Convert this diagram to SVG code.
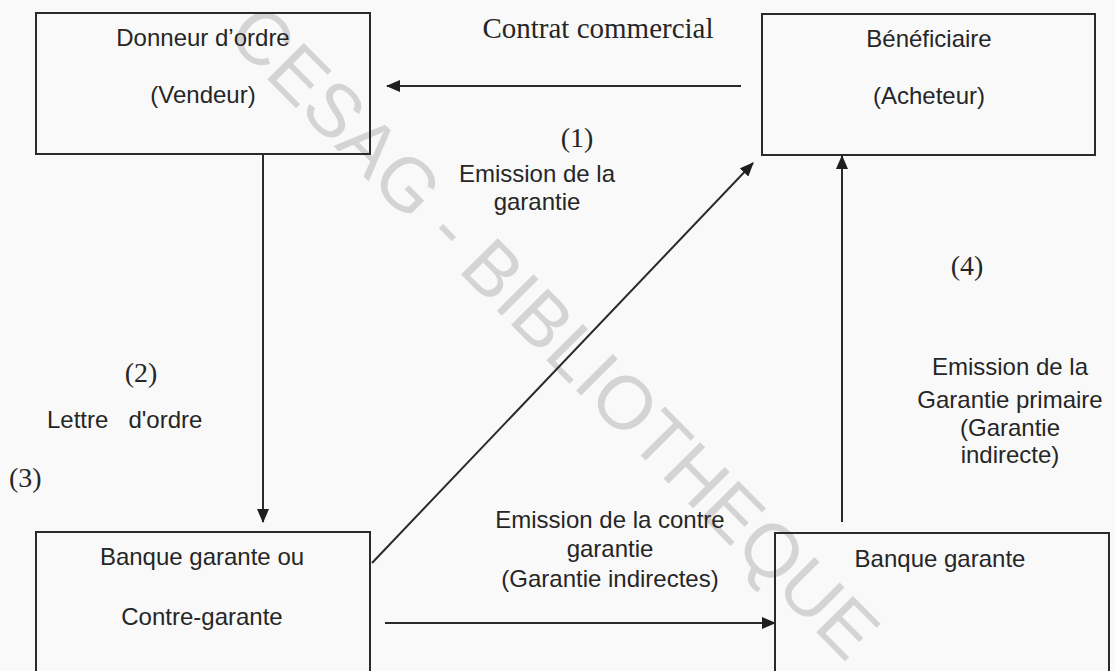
<svg xmlns="http://www.w3.org/2000/svg" width="1115" height="671" viewBox="0 0 1115 671">
<defs>
<style>
.box{fill:none;stroke:#2a2a2a;stroke-width:2}
.lbl{font-family:"Liberation Sans",Arial,sans-serif;font-size:24px;fill:#262626;text-anchor:middle}
.ser{font-family:"Liberation Serif","Times New Roman",serif;font-size:28px;fill:#262626;text-anchor:middle}
.con{stroke:#2a2a2a;stroke-width:2;fill:none;marker-end:url(#ah)}
.wm{font-family:"Liberation Sans",Arial,sans-serif;font-size:75px;fill:#d4d4d4;text-anchor:middle}
</style>
<marker id="ah" markerUnits="userSpaceOnUse" markerWidth="14" markerHeight="12" refX="13" refY="6" orient="auto">
<path d="M0,0 L14,6 L0,12 z" fill="#1e1e1e"/>
</marker>
</defs>
<rect width="1115" height="671" fill="#f9f9f9"/>
<text class="wm" x="536" y="350" transform="rotate(45.2 536 350)">CESAG - BIBLIOTHEQUE</text>
<g id="connectors">
<line class="con" x1="741" y1="86" x2="387" y2="86"/>
<line class="con" x1="263" y1="154" x2="263" y2="522"/>
<line class="con" x1="372" y1="563" x2="753" y2="163"/>
<line class="con" x1="385" y1="623" x2="775" y2="623"/>
<line class="con" x1="842" y1="522" x2="842" y2="156"/>
</g>
<g id="node-donneur">
<rect class="box" x="36" y="13" width="334" height="141"/>
<text class="lbl" x="203" y="46">Donneur d’ordre</text>
<text class="lbl" x="203" y="103">(Vendeur)</text>
</g>
<g id="node-beneficiaire">
<rect class="box" x="762" y="14" width="333" height="141"/>
<text class="lbl" x="929" y="47">Bénéficiaire</text>
<text class="lbl" x="929" y="104">(Acheteur)</text>
</g>
<g id="node-banque-contre">
<rect class="box" x="36" y="532" width="334" height="170"/>
<text class="lbl" x="202" y="565">Banque garante ou</text>
<text class="lbl" x="202" y="625">Contre-garante</text>
</g>
<g id="node-banque-garante">
<rect class="box" x="775" y="533" width="334" height="170"/>
<text class="lbl" x="940" y="567">Banque garante</text>
</g>
<g id="labels">
<text class="ser" x="598" y="38" style="font-size:29px">Contrat commercial</text>
<text class="ser" x="577" y="147">(1)</text>
<text class="lbl" x="537" y="182">Emission de la</text>
<text class="lbl" x="537" y="210">garantie</text>
<text class="ser" x="141" y="382">(2)</text>
<text class="lbl" x="47" y="428" style="text-anchor:start" xml:space="preserve">Lettre   d'ordre</text>
<text class="ser" x="9" y="487" style="text-anchor:start">(3)</text>
<text class="ser" x="967" y="275">(4)</text>
<text class="lbl" x="1010" y="375">Emission de la</text>
<text class="lbl" x="1010" y="408">Garantie primaire</text>
<text class="lbl" x="1010" y="436">(Garantie</text>
<text class="lbl" x="1010" y="463">indirecte)</text>
<text class="lbl" x="610" y="528">Emission de la contre</text>
<text class="lbl" x="610" y="557">garantie</text>
<text class="lbl" x="610" y="587">(Garantie indirectes)</text>
</g>
</svg>
